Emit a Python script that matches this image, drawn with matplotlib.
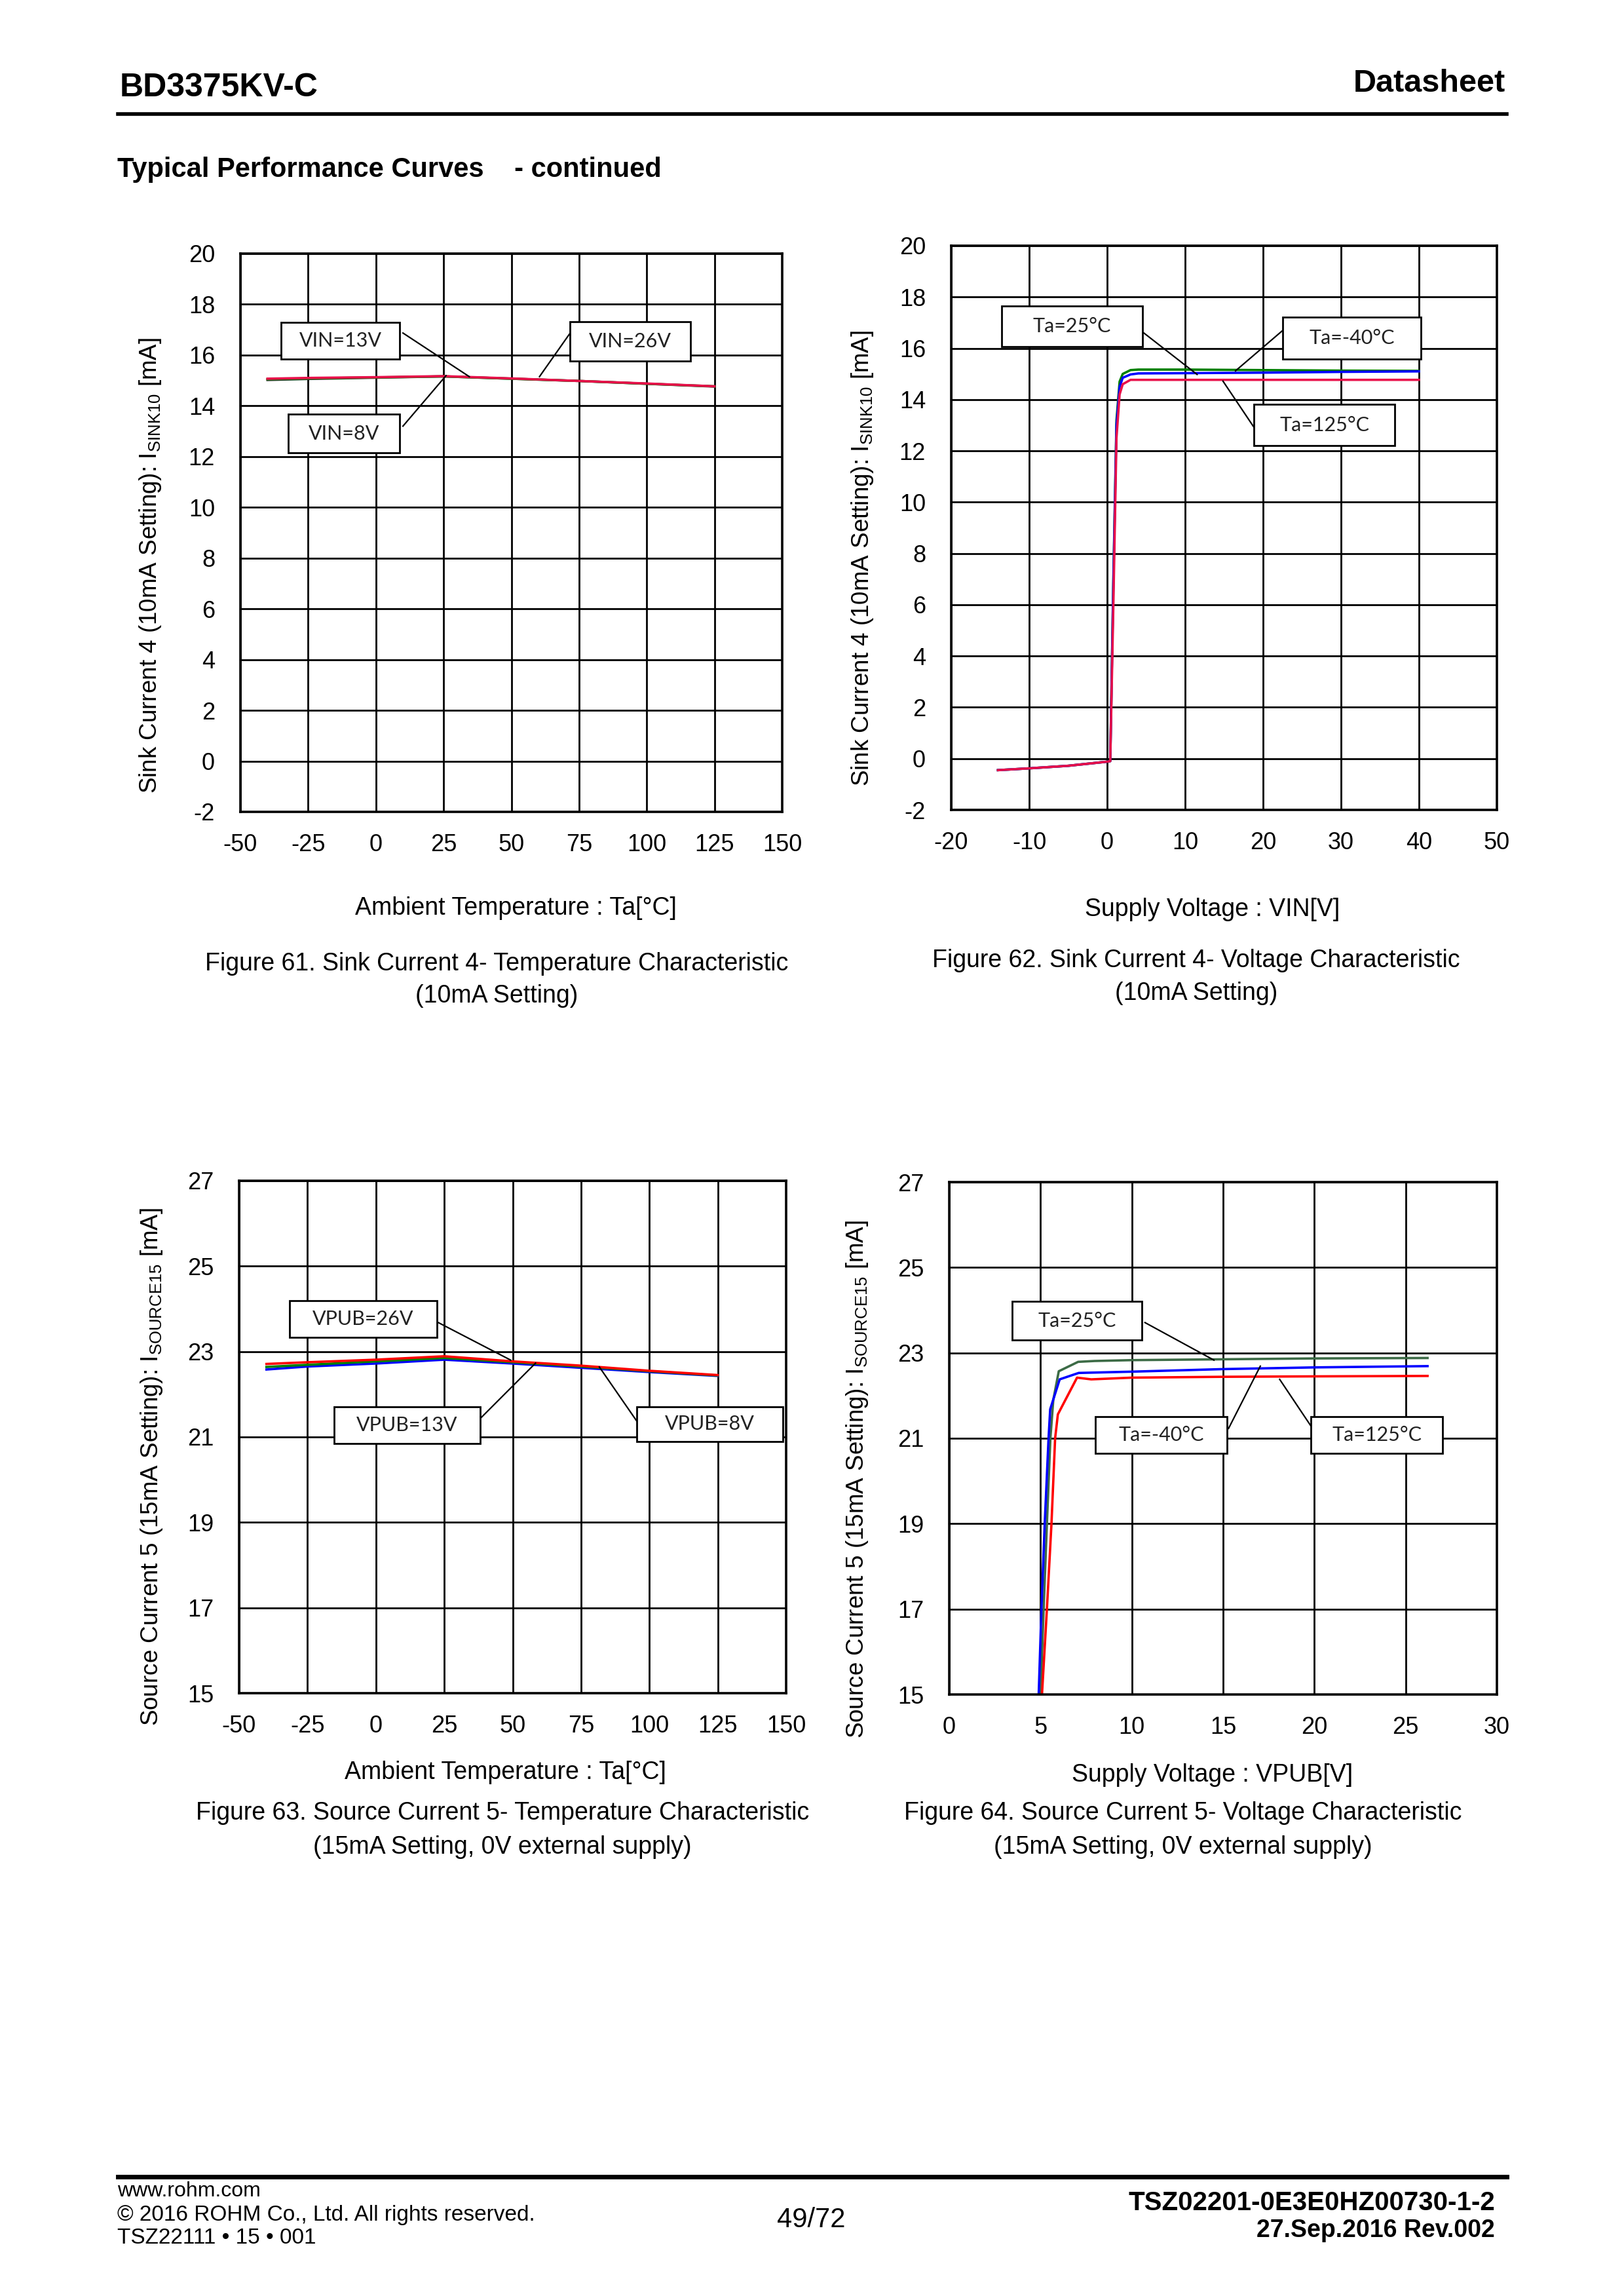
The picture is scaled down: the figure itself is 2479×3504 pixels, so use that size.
import matplotlib
matplotlib.use("Agg")
import matplotlib.pyplot as plt
from matplotlib.patches import Rectangle

plt.rcParams['font.family'] = ['Liberation Sans', 'DejaVu Sans']
plt.rcParams['mathtext.fontset'] = 'custom'
plt.rcParams['mathtext.rm'] = 'Liberation Sans'
plt.rcParams['mathtext.it'] = 'Liberation Sans'
plt.rcParams['axes.unicode_minus'] = False

W, H = 2479, 3504

# ---- Figure 61 data: sink current 4 vs temperature
fig61_temp = [-40, -25, 0, 25, 50, 75, 100, 125]
fig61_vin8 = [15.05, 15.08, 15.12, 15.16, 15.07, 14.98, 14.87, 14.77]
fig61_vin13 = [15.02, 15.06, 15.11, 15.16, 15.07, 14.98, 14.87, 14.76]
fig61_vin26 = [15.07, 15.10, 15.13, 15.17, 15.08, 14.98, 14.88, 14.77]

# ---- Figure 62 data: sink current 4 vs supply voltage
fig62_vin = [-14, -10, -5, 0, 0.4, 0.8, 1.2, 1.6, 2.0, 3.0, 4.0, 10, 20, 30, 40]
fig62_ta125 = [-0.45, -0.38, -0.28, -0.12, -0.1, 6.0, 12.5, 14.2, 14.6, 14.77, 14.77, 14.77, 14.77, 14.77, 14.77]
fig62_tam40 = [-0.45, -0.38, -0.28, -0.12, -0.1, 7.0, 13.2, 14.7, 15.0, 15.15, 15.17, 15.17, 15.15, 15.13, 15.12]
fig62_ta25 = [-0.45, -0.38, -0.28, -0.12, -0.1, 6.8, 13.0, 14.5, 14.85, 14.98, 15.02, 15.03, 15.05, 15.08, 15.10]

# ---- Figure 63 data: source current 5 vs temperature
fig63_temp = [-40, -25, 0, 25, 50, 75, 100, 125]
fig63_vpub26 = [22.71, 22.75, 22.81, 22.89, 22.77, 22.67, 22.55, 22.45]
fig63_vpub13 = [22.64, 22.69, 22.77, 22.85, 22.75, 22.65, 22.54, 22.44]
fig63_vpub8 = [22.58, 22.65, 22.72, 22.81, 22.72, 22.62, 22.52, 22.43]

# ---- Figure 64 data: source current 5 vs supply voltage
fig64_ta25_v = [5.0, 5.17, 5.35, 5.54, 5.7, 6.0, 7.06, 7.95, 10, 15, 20, 26.2]
fig64_ta25_i = [15, 17, 19, 21, 21.9, 22.57, 22.79, 22.81, 22.83, 22.85, 22.87, 22.88]
fig64_tam40_v = [4.9, 5.05, 5.23, 5.44, 5.53, 6.05, 7.09, 10, 15, 20, 26.2]
fig64_tam40_i = [15, 17, 19, 21, 21.68, 22.38, 22.53, 22.56, 22.62, 22.66, 22.69]
fig64_ta125_v = [5.08, 5.35, 5.6, 5.8, 5.95, 7.0, 7.78, 10, 15, 20, 26.2]
fig64_ta125_i = [15, 17, 19, 21, 21.56, 22.42, 22.38, 22.42, 22.44, 22.45, 22.46]

# label boxes: text, box centre, box size, leader start, leader end (data units)
fig61_notes = [("VIN=13V", (-13.1, 16.57), (43.8, 1.45), (10.0, 16.87), (34.5, 15.15)),
               ("VIN=26V", (93.9, 16.55), (44.5, 1.55), (71.4, 16.82), (60.4, 15.15)),
               ("VIN=8V", (-11.8, 12.91), (41.1, 1.52), (10.0, 13.2), (25.9, 15.19))]
fig62_notes = [("Ta=25°C", (-4.5, 16.86), (18.0, 1.6), (4.7, 16.6), (11.54, 14.98)),
               ("Ta=-40°C", (31.4, 16.4), (17.7, 1.62), (22.46, 16.68), (16.47, 15.12)),
               ("Ta=125°C", (27.87, 13.0), (18.07, 1.61), (18.9, 12.89), (14.86, 14.72))]
fig63_notes = [("VPUB=26V", (-4.65, 23.76), (53.9, 0.86), (21.9, 23.71), (49.3, 22.8)),
               ("VPUB=13V", (11.46, 21.27), (53.5, 0.86), (38.6, 21.46), (58.4, 22.73)),
               ("VPUB=8V", (122.1, 21.3), (53.5, 0.81), (95.3, 21.38), (81.7, 22.64))]
fig64_notes = [("Ta=25°C", (6.99, 23.75), (7.1, 0.9), (10.72, 23.71), (14.5, 22.83)),
               ("Ta=-40°C", (11.61, 21.08), (7.2, 0.86), (15.3, 21.23), (17.04, 22.69)),
               ("Ta=125°C", (23.42, 21.08), (7.2, 0.86), (19.98, 21.18), (18.1, 22.38))]

fig = plt.figure(figsize=(W / 100, H / 100), dpi=100)


def fx(x):
    return x / W


def fy(y):
    return 1 - y / H


def make_axes(l, t, r, b, xlim, ylim, xstep, ystep):
    ax = fig.add_axes([fx(l), fy(b), (r - l) / W, (b - t) / H])
    ax.set_xlim(*xlim)
    ax.set_ylim(*ylim)
    ax.set_xticks(range(xlim[0], xlim[1] + 1, xstep))
    ax.set_yticks(range(ylim[0], ylim[1] + 1, ystep))
    ax.grid(True, color='black', lw=2.0)
    ax.tick_params(length=0, labelsize=26)
    ax.tick_params(axis='x', pad=24)
    ax.tick_params(axis='y', pad=28)
    for s in ax.spines.values():
        s.set_linewidth(2.6)
    return ax


def notes(ax, items):
    for text, (cx, cy), (bw, bh), start, end in items:
        ax.plot([start[0], end[0]], [start[1], end[1]], color='black', lw=1.6, zorder=5)
        ax.add_patch(Rectangle((cx - bw / 2, cy - bh / 2), bw, bh, facecolor='white',
                               edgecolor='black', lw=2.0, zorder=6))
        ax.text(cx, cy, text, ha='center', va='center', fontsize=22, family=['Lato', 'DejaVu Sans'],
                color='#222222', zorder=7)


def labels(ylab, ylx, yly, xlab, xlx, xly, cap1, cap2, cx, cy1, cy2):
    fig.text(fx(ylx), fy(yly), ylab, rotation=90, ha='center', va='center', fontsize=26.5)
    fig.text(fx(xlx), fy(xly), xlab, ha='center', va='center', fontsize=27)
    fig.text(fx(cx), fy(cy1), cap1, ha='center', va='center', fontsize=27)
    fig.text(fx(cx), fy(cy2), cap2, ha='center', va='center', fontsize=27)


# Figure 61
ax = make_axes(367, 387, 1194, 1239, (-50, 150), (-2, 20), 25, 2)
ax.plot(fig61_temp, fig61_vin13, color='#333333', lw=2.6)
ax.plot(fig61_temp, fig61_vin8, color='green', lw=2.6)
ax.plot(fig61_temp, fig61_vin26, color='#e8104a', lw=2.6)
notes(ax, fig61_notes)
labels(r"Sink Current 4 (10mA Setting): I$_{\rm SINK10}$ [mA]", 230, 863,
       "Ambient Temperature : Ta[°C]", 787, 1386,
       "Figure 61. Sink Current 4- Temperature Characteristic", "(10mA Setting)", 758, 1471, 1520)

# Figure 62
ax = make_axes(1452, 375, 2285, 1236, (-20, 50), (-2, 20), 10, 2)
ax.plot(fig62_vin, fig62_tam40, color='green', lw=2.6)
ax.plot(fig62_vin, fig62_ta25, color='blue', lw=2.6)
ax.plot(fig62_vin, fig62_ta125, color='#e8104a', lw=2.6)
notes(ax, fig62_notes)
labels(r"Sink Current 4 (10mA Setting): I$_{\rm SINK10}$ [mA]", 1317, 852,
       "Supply Voltage : VIN[V]", 1851, 1388,
       "Figure 62. Sink Current 4- Voltage Characteristic", "(10mA Setting)", 1826, 1466, 1516)

# Figure 63
ax = make_axes(365, 1802, 1200, 2584, (-50, 150), (15, 27), 25, 2)
ax.plot(fig63_temp, fig63_vpub8, color='blue', lw=2.6, zorder=3)
ax.plot(fig63_temp, fig63_vpub13, color='green', lw=2.6, zorder=3)
ax.plot(fig63_temp, fig63_vpub26, color='red', lw=2.6, zorder=3)
notes(ax, fig63_notes)
labels(r"Source Current 5 (15mA Setting): I$_{\rm SOURCE15}$ [mA]", 232, 2239,
       "Ambient Temperature : Ta[°C]", 771, 2705,
       "Figure 63. Source Current 5- Temperature Characteristic",
       "(15mA Setting, 0V external supply)", 767, 2767, 2819)

# Figure 64
ax = make_axes(1449, 1804, 2285, 2586, (0, 30), (15, 27), 5, 2)
ax.plot(fig64_ta25_v, fig64_ta25_i, color='#3c6b46', lw=2.6)
ax.plot(fig64_tam40_v, fig64_tam40_i, color='blue', lw=2.6)
ax.plot(fig64_ta125_v, fig64_ta125_i, color='red', lw=2.6)
notes(ax, fig64_notes)
labels(r"Source Current 5 (15mA Setting): I$_{\rm SOURCE15}$ [mA]", 1308, 2258,
       "Supply Voltage : VPUB[V]", 1851, 2709,
       "Figure 64. Source Current 5- Voltage Characteristic",
       "(15mA Setting, 0V external supply)", 1806, 2767, 2819)

# page header
fig.text(fx(183), fy(134), "BD3375KV-C", ha='left', va='center', fontsize=36, weight='bold')
fig.text(fx(2298), fy(127), "Datasheet", ha='right', va='center', fontsize=35, weight='bold')
fig.add_artist(plt.Line2D([fx(180), fx(2300)], [fy(174), fy(174)], color='black', lw=4))
fig.text(fx(179), fy(259), "Typical Performance Curves    - continued", ha='left', va='center',
         fontsize=30, weight='bold')

# page footer
fig.add_artist(plt.Line2D([fx(180), fx(2300)], [fy(3322), fy(3322)], color='black', lw=5))
fig.text(fx(179), fy(3344), "www.rohm.com", ha='left', va='center', fontsize=23)
fig.text(fx(179), fy(3380), "© 2016 ROHM Co., Ltd. All rights reserved.", ha='left', va='center', fontsize=24)
fig.text(fx(179), fy(3415), "TSZ22111 • 15 • 001", ha='left', va='center', fontsize=24)
fig.text(fx(1238), fy(3388), "49/72", ha='center', va='center', fontsize=30)
fig.text(fx(2282), fy(3362), "TSZ02201-0E3E0HZ00730-1-2", ha='right', va='center', fontsize=29, weight='bold')
fig.text(fx(2282), fy(3404), "27.Sep.2016 Rev.002", ha='right', va='center', fontsize=27, weight='bold')

fig.savefig("out.png", dpi=100)
